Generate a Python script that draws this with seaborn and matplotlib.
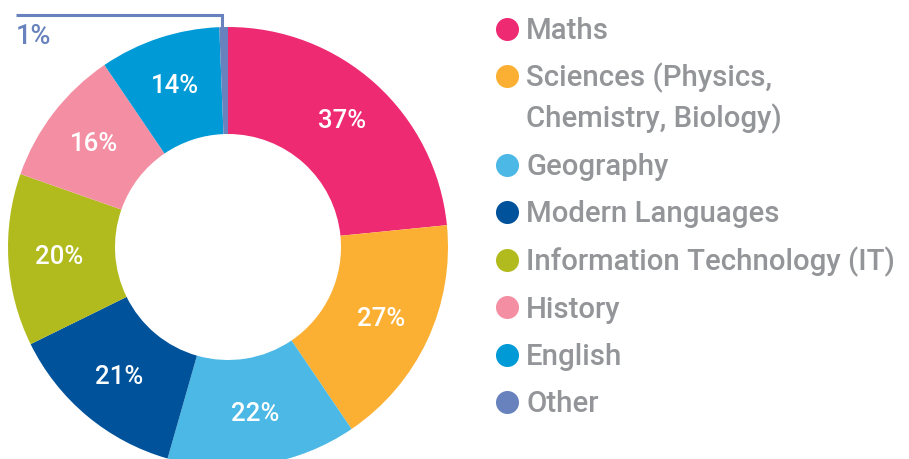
import matplotlib
matplotlib.use("Agg")
import matplotlib.pyplot as plt
import seaborn as sns
import numpy as np

# ---- data ----
categories = ["Maths", "Sciences (Physics,\nChemistry, Biology)", "Geography",
              "Modern Languages", "Information Technology (IT)", "History",
              "English", "Other"]
values = [37, 27, 22, 21, 20, 16, 14, 1]
colors = ["#EE2A72", "#FBB034", "#4BB8E5", "#00529B", "#B2BB1E",
          "#F48FA3", "#009AD7", "#6782BC"]
labels = [f"{v}%" for v in values]

sns.set_theme(style="white")
plt.rcParams['font.family'] = ['Roboto', 'DejaVu Sans']

W, H = 909, 459
fig = plt.figure(figsize=(W / 100, H / 100), dpi=100)
ax = fig.add_axes([0, 0, 1, 1])

def Y(y_img):
    return H - y_img

cx, cy, R, ring = 228, Y(247), 220, 107

wedges, _ = ax.pie(values, colors=colors, startangle=90, counterclock=False,
                   radius=R, center=(cx, cy),
                   wedgeprops=dict(width=ring, edgecolor='none', linewidth=0))

# ring labels
rl = R - ring / 2 + 3
for w, lab, cat in zip(wedges, labels, categories):
    mid = np.deg2rad((w.theta1 + w.theta2) / 2)
    x, y = cx + rl * np.cos(mid), cy + rl * np.sin(mid)
    if cat == "Other":
        xt = cx + R * np.cos(mid) - 2
        yt = cy + R * np.sqrt(1 - ((xt - cx) / R) ** 2)
        ax.plot([xt, xt, 16], [yt, Y(15), Y(15)], color=w.get_facecolor(),
                lw=2.2, solid_capstyle='butt', solid_joinstyle='miter')
        ax.text(16, Y(44), lab, color=colors[-1], fontsize=19.5,
                fontweight='medium', ha='left', va='baseline')
    else:
        ax.text(x, y, lab, color='white', fontsize=18.5, fontweight='medium',
                ha='center', va='center')

# legend
base0, step, extra = 39, 47.5, 41
nextra = 0
for i, (cat, col) in enumerate(zip(categories, colors)):
    b = base0 + step * i + extra * nextra
    ax.scatter([507], [Y(b - 10.5)], s=275, color=col, linewidths=0, zorder=3)
    for j, line in enumerate(cat.split("\n")):
        ax.text(526, Y(b + extra * j), line, color="#939598", fontsize=21.2,
                fontweight='medium', ha='left', va='baseline')
    nextra += cat.count("\n")

ax.set_xlim(0, W)
ax.set_ylim(0, H)
ax.set_aspect('auto')
ax.set_position([0, 0, 1, 1])
ax.axis('off')

fig.savefig("out.png", dpi=100)
